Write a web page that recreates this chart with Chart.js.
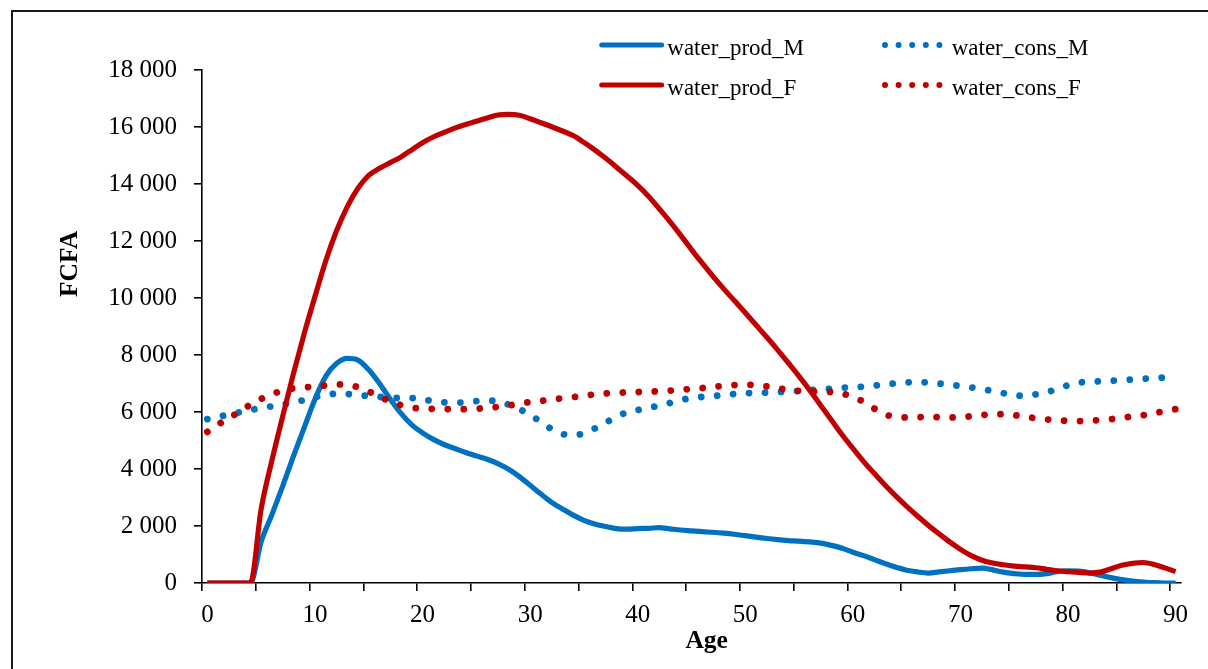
<!DOCTYPE html>
<html>
<head>
<meta charset="utf-8">
<script src="https://cdn.jsdelivr.net/npm/chart.js@4.4.1/dist/chart.umd.min.js"></script>
<style>
  html, body { margin: 0; padding: 0; background: #ffffff; overflow: hidden; }
  #wrap { position: relative; width: 1208px; height: 669px; overflow: hidden; background: #ffffff; }
  #frame { position: absolute; left: 11px; top: 10px; width: 1400px; height: 900px; border: 2px solid #1a1a1a; box-sizing: border-box; }
  #c { position: absolute; left: 0; top: 0; }
</style>
</head>
<body>
<div id="wrap">
  <div id="frame"></div>
  <canvas id="c" width="1208" height="669"></canvas>
</div>
<script>
// ---------- DATA ----------
const ages = [0,1,2,3,4,5,6,7,8,9,10,11,12,13,14,15,16,17,18,19,20,21,22,23,24,25,26,27,28,29,30,
  31,32,33,34,35,36,37,38,39,40,41,42,43,44,45,46,47,48,49,50,51,52,53,54,55,56,57,58,59,60,
  61,62,63,64,65,66,67,68,69,70,71,72,73,74,75,76,77,78,79,80,81,82,83,84,85,86,87,88,89,90];

const waterProdM = [0,0,0,0,0,1450,2400,3400,4450,5450,6450,7250,7700,7880,7820,7480,7000,6450,5950,5550,
  5270,5040,4860,4720,4580,4460,4340,4190,3990,3730,3430,3120,2830,2600,2380,2200,2070,1980,1910,1890,
  1910,1920,1940,1900,1860,1830,1800,1780,1750,1710,1660,1610,1560,1520,1490,1470,1440,1400,1320,1220,
  1080,960,820,680,550,450,390,350,390,430,470,500,520,460,380,330,300,300,330,400,
  430,420,360,270,190,120,70,35,10,0,0];

const waterConsM = [5750,5830,5910,5990,6070,6140,6200,6260,6340,6420,6520,6600,6640,6630,6600,6560,6530,6500,6490,6490,
  6440,6380,6340,6330,6340,6380,6400,6380,6260,6100,5900,5650,5400,5230,5190,5250,5420,5620,5830,5990,
  6070,6150,6220,6320,6420,6490,6530,6560,6590,6630,6660,6670,6680,6700,6710,6740,6770,6790,6820,6850,
  6870,6890,6930,6960,7010,7040,7047,7035,7000,6960,6910,6860,6800,6740,6660,6580,6570,6620,6700,6800,
  6940,7030,7060,7080,7095,7120,7140,7165,7190,7210,7225];

const waterProdF = [0,0,0,0,0,2600,4300,5850,7350,8750,10050,11300,12350,13200,13850,14300,14550,14750,14950,15200,
  15450,15650,15810,15960,16090,16200,16320,16420,16440,16410,16290,16150,16010,15860,15700,15460,15200,14910,14600,14280,
  13950,13570,13130,12680,12200,11700,11220,10760,10320,9900,9480,9050,8620,8180,7720,7250,6760,6240,5720,5200,
  4720,4260,3840,3430,3050,2690,2350,2030,1730,1440,1180,960,800,700,640,595,565,535,480,430,
  400,370,350,380,500,620,690,720,650,530,400];

const waterConsF = [5300,5560,5790,6010,6260,6460,6620,6760,6830,6860,6900,6930,6970,6950,6870,6720,6540,6370,6240,6150,
  6120,6110,6105,6100,6100,6115,6140,6180,6230,6290,6350,6390,6440,6480,6520,6570,6620,6650,6670,6690,
  6700,6715,6730,6750,6780,6810,6840,6880,6920,6945,6955,6945,6900,6840,6780,6740,6720,6710,6700,6650,
  6520,6360,6120,5910,5830,5810,5815,5830,5815,5810,5820,5850,5890,5925,5920,5890,5840,5780,5740,5710,
  5690,5680,5690,5720,5750,5790,5850,5890,5960,6030,6100];

const seriesNames = ['water_prod_M', 'water_cons_M', 'water_prod_F', 'water_cons_F'];
const xLabelAges = [0, 10, 20, 30, 40, 50, 60, 70, 80, 90];
const yTickValues = [0, 2000, 4000, 6000, 8000, 10000, 12000, 14000, 16000, 18000];
const xTitle = 'Age';
const yTitle = 'FCFA';

// ---------- STYLE ----------
const BLUE = '#0070C0';
const RED = '#C00000';
const SERIF = '"Liberation Serif", "Times New Roman", Times, serif';

function fmtThousands(v) {
  return String(v).replace(/\B(?=(\d{3})+(?!\d))/g, ' ');
}

const overlayPlugin = {
  id: 'overlay',
  afterDraw(chart) {
    const ctx = chart.ctx;
    ctx.save();
    // axis titles
    ctx.fillStyle = '#000';
    ctx.font = 'bold 25.5px ' + SERIF;
    ctx.textAlign = 'center';
    ctx.textBaseline = 'alphabetic';
    ctx.fillText(xTitle, 706.7, 648.3);
    ctx.save();
    ctx.translate(76.5, 264);
    ctx.rotate(-Math.PI / 2);
    ctx.fillText(yTitle, 0, 0);
    ctx.restore();

    // legend
    const items = [
      {name: seriesNames[0], color: BLUE, dotted: false, x: 601.7, tx: 667.3, y: 45, ty: 55},
      {name: seriesNames[1], color: BLUE, dotted: true,  x: 885,   tx: 951.7, y: 45, ty: 55},
      {name: seriesNames[2], color: RED,  dotted: false, x: 601.7, tx: 667.3, y: 85, ty: 95},
      {name: seriesNames[3], color: RED,  dotted: true,  x: 885,   tx: 951.7, y: 85, ty: 95}
    ];
    items.forEach(it => {
      if (it.dotted) {
        ctx.fillStyle = it.color;
        for (let k = 0; k < 5; k++) {
          ctx.beginPath();
          ctx.arc(it.x + k * 13.6, it.y, 3, 0, Math.PI * 2);
          ctx.fill();
        }
      } else {
        ctx.strokeStyle = it.color;
        ctx.lineWidth = 5;
        ctx.lineCap = 'round';
        ctx.beginPath();
        ctx.moveTo(it.x, it.y);
        ctx.lineTo(it.x + 60, it.y);
        ctx.stroke();
      }
      ctx.fillStyle = '#000';
      ctx.font = '23px ' + SERIF;
      ctx.textAlign = 'left';
      ctx.textBaseline = 'alphabetic';
      ctx.fillText(it.name, it.tx, it.ty);
    });
    ctx.restore();
  }
};

const ds = (label, data, color, dotted, order) => ({
  label, data,
  borderColor: color,
  backgroundColor: color,
  borderWidth: dotted ? 6.8 : 5.2,
  borderDash: dotted ? [0.001, 16] : [],
  borderCapStyle: dotted ? 'round' : 'butt',
  borderJoinStyle: 'round',
  pointRadius: 0,
  pointHoverRadius: 0,
  fill: false,
  cubicInterpolationMode: 'monotone',
  order
});

new Chart(document.getElementById('c'), {
  type: 'line',
  data: {
    labels: ages.map(String),
    datasets: [
      ds(seriesNames[0], waterProdM, BLUE, false, 4),
      ds(seriesNames[1], waterConsM, BLUE, true, 3),
      ds(seriesNames[2], waterProdF, RED, false, 2),
      ds(seriesNames[3], waterConsF, RED, true, 1)
    ]
  },
  options: {
    responsive: false,
    animation: false,
    devicePixelRatio: 1,
    layout: { padding: { left: 0, right: 27, top: 70, bottom: 0 } },
    plugins: {
      legend: { display: false },
      tooltip: { enabled: false },
      title: { display: false }
    },
    scales: {
      x: {
        type: 'category',
        offset: true,
        afterFit(scale) { scale.height = 86; },
        border: { display: true, color: '#000', width: 1.6 },
        grid: {
          offset: true,
          drawOnChartArea: false,
          drawTicks: true,
          tickLength: 8,
          lineWidth: 1.6,
          color: '#000',
          tickColor: (c) => (c.index % 5 === 0 && c.index < ages.length) ? '#000' : 'rgba(0,0,0,0)'
        },
        ticks: {
          autoSkip: false,
          maxRotation: 0,
          minRotation: 0,
          padding: 9,
          color: '#000',
          font: { family: SERIF, size: 25, lineHeight: 1.2 },
          callback: function(val, index) {
            return xLabelAges.includes(ages[index]) ? String(ages[index]) : '';
          }
        }
      },
      y: {
        type: 'linear',
        min: 0,
        max: 18000,
        afterFit(scale) { scale.width = 202; },
        afterBuildTicks(scale) { scale.ticks = yTickValues.map(v => ({ value: v })); },
        border: { display: true, color: '#000', width: 1.6 },
        grid: {
          drawOnChartArea: false,
          drawTicks: true,
          tickLength: 8,
          lineWidth: 1.6,
          color: '#000',
          tickColor: '#000'
        },
        ticks: {
          padding: 17,
          color: '#000',
          font: { family: SERIF, size: 25 },
          callback: (v) => fmtThousands(v)
        }
      }
    }
  },
  plugins: [overlayPlugin]
});
</script>
</body>
</html>
